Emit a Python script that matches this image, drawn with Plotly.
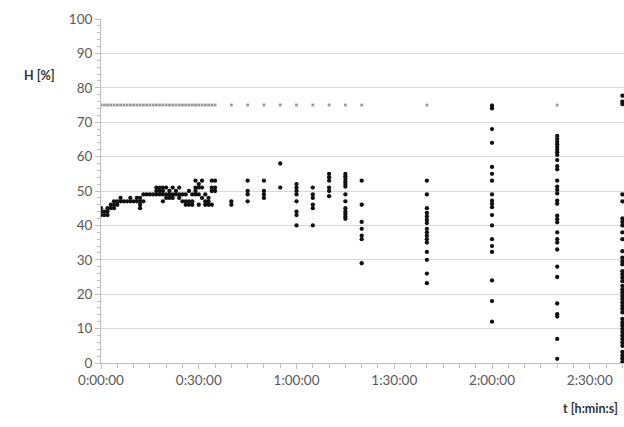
import plotly.graph_objects as go

# ---- data (time in minutes, humidity in %) ----
dense_minutes = list(range(0, 36))
dense_values = [
    [45, 44, 43], [43, 44], [43, 44, 45], [46, 45], [47, 46, 45], [46, 47],
    [48, 47], [47], [47], [48, 47], [47], [48, 47], [48, 47, 46, 45],
    [47, 49], [49], [49], [49], [49, 50, 51], [49, 51, 50], [49, 51, 50, 47],
    [49, 51, 48], [49, 50, 48], [49, 51, 48], [49, 50], [49, 51, 48],
    [49, 47], [49, 47, 46], [50, 47, 46], [49, 47, 46], [53, 51, 50, 49],
    [52, 51, 49, 46], [53, 51, 48], [49, 47, 46], [46, 47, 48],
    [53, 51, 50, 46], [53, 51, 50],
]
sparse_minutes = [40, 45, 50, 55, 60, 65, 70, 75, 80, 100, 120, 140, 160]
sparse_values = [
    [47, 46],
    [53, 50, 49, 47],
    [53, 50, 49, 48],
    [58, 51],
    [52, 51, 50, 49, 47, 44, 43, 40],
    [51, 49, 48, 46, 45, 40],
    [55, 54, 53, 51, 50, 48.5],
    [55, 54.3, 53.5, 52.7, 52, 51.3, 49, 47, 45, 44, 43.3, 42.6, 41.9],
    [53, 46, 41, 39, 37, 36, 29],
    [53, 49, 45, 43.6, 42.6, 41.6, 40.7, 39, 38, 37, 36, 35, 32.3, 30, 26, 23.2],
    [74.8, 74, 68, 64, 57, 55, 53, 49, 47.2, 46.3, 45.3, 43, 40, 36, 34, 32.3,
     24, 18, 12],
    [66, 65.1, 64.3, 63.6, 62.8, 62, 61.3, 60.5, 59, 57.2, 56.3, 53, 51.3,
     50.3, 49.3, 47.2, 46.3, 42.8, 41.8, 40.9, 38, 36, 35, 33, 28, 25, 17.3,
     14.2, 13.5, 7, 1.2],
    [77.7, 76, 75.3, 49, 47, 42, 41, 40, 38, 36, 32.5, 30.6, 29.6, 28.7, 26.7,
     25.8, 24.8, 23.8, 22.4, 21.4, 20.5, 19.5, 18.6, 17.6, 16.6, 15.7, 14.7,
     12.8, 11.8, 10.9, 9.9, 9, 8, 7, 6, 5, 3.2, 2.2, 1.3, 0.3],
]
setpoint_minutes = list(range(0, 36)) + [40, 45, 50, 55, 60, 65, 70, 75, 80,
                                          100, 120, 140, 160]
setpoint_value = 75

tick_minutes = [0, 30, 60, 90, 120, 150]
tick_labels = ["0:00:00", "0:30:00", "1:00:00", "1:30:00", "2:00:00", "2:30:00"]

# ---- build flat series ----
bx, by = [], []
for t, vals in zip(dense_minutes + sparse_minutes, dense_values + sparse_values):
    for v in vals:
        bx.append(t)
        by.append(v)

fig = go.Figure()
fig.add_trace(go.Scatter(
    x=setpoint_minutes, y=[setpoint_value] * len(setpoint_minutes),
    mode="markers", marker=dict(symbol="square", size=2.8, color="#9a9a9a"),
    showlegend=False, hoverinfo="skip"))
fig.add_trace(go.Scatter(
    x=bx, y=by, mode="markers",
    marker=dict(symbol="circle", size=4.3, color="#111111"),
    showlegend=False))

font_color = "#595959"
fig.update_layout(
    width=624, height=427,
    margin=dict(l=101, r=0, t=19, b=64),
    paper_bgcolor="white", plot_bgcolor="white",
    font=dict(family="Lato, Open Sans, sans-serif", size=13, color=font_color),
    xaxis=dict(
        range=[0, 160.5], tickvals=tick_minutes, ticktext=tick_labels,
        showgrid=False, zeroline=False, showline=True, linecolor="#bfbfbf",
        linewidth=1, ticks="outside", ticklen=5, tickcolor="#bfbfbf",
        minor=dict(dtick=5, ticks="outside", ticklen=4, tickcolor="#bfbfbf",
                   showgrid=False),
        tickfont=dict(size=13.5, color=font_color),
    ),
    yaxis=dict(
        range=[0, 100], dtick=10, showgrid=True, gridcolor="#d9d9d9",
        gridwidth=1, zeroline=False, showline=True, linecolor="#bfbfbf",
        linewidth=1, ticks="outside", ticklen=5, tickcolor="#bfbfbf",
        minor=dict(dtick=2, ticks="outside", ticklen=3, tickcolor="#bfbfbf",
                   showgrid=False),
        tickfont=dict(size=13.5, color=font_color),
    ),
    annotations=[
        dict(text="<b>H [%]</b>", xref="paper", yref="paper",
             x=-0.152, y=0.837, xanchor="left", yanchor="middle",
             showarrow=False, font=dict(size=12.5, color="#333333")),
        dict(text="<b>t [h:min:s]</b>", xref="paper", yref="paper",
             x=0.993, y=-0.131, xanchor="right", yanchor="middle",
             showarrow=False, font=dict(size=12.5, color="#333333")),
    ],
)
fig.write_html("out.html")
